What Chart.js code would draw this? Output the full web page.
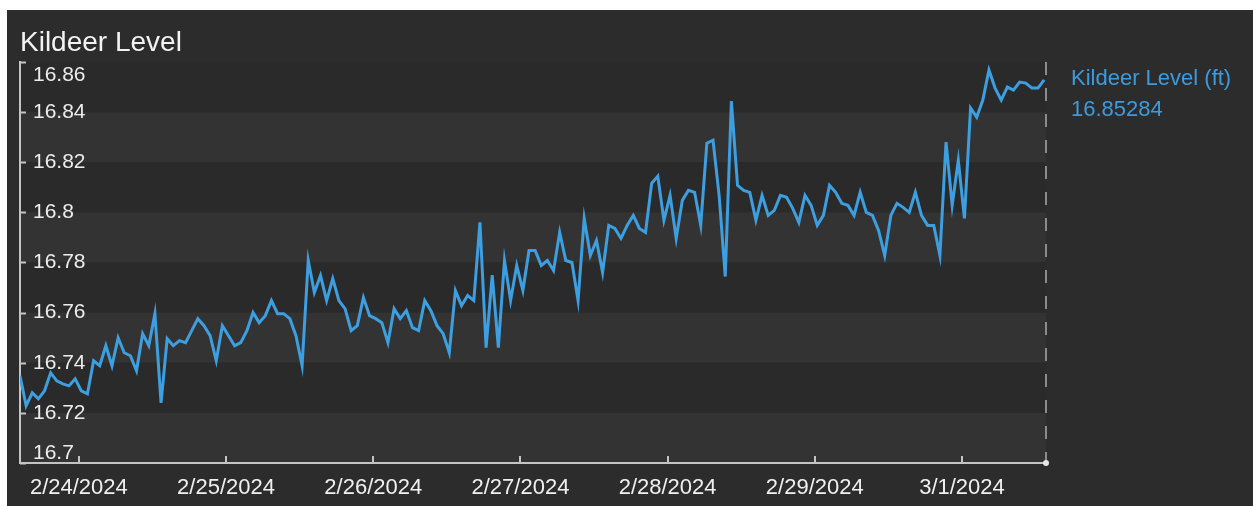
<!DOCTYPE html>
<html>
<head>
<meta charset="utf-8">
<script src="https://cdn.jsdelivr.net/npm/chart.js"></script>
<style>
  html, body { margin: 0; padding: 0; background: #fff; width: 1253px; height: 506px; overflow: hidden; }
  #panel { position: absolute; left: 7px; top: 10px; width: 1246px; height: 496px; background: #2c2c2c; }
  #chart { position: absolute; left: 0; top: 0; }
  .txt { position: absolute; font-family: "Liberation Sans", Arial, sans-serif; white-space: nowrap; }
  #title { left: 20px; top: 28px; font-size: 28px; line-height: 28px; color: #f2f2f2; }
  #legName { left: 1071px; top: 67px; font-size: 22px; line-height: 22px; color: #3d9bdc; }
  #legVal { left: 1071px; top: 98px; font-size: 22px; line-height: 22px; color: #3d9bdc; }
</style>
</head>
<body>
<div id="panel"></div>
<canvas id="chart" width="1253" height="506"></canvas>
<div class="txt" id="title">Kildeer Level</div>
<div class="txt" id="legName">Kildeer Level (ft)</div>
<div class="txt" id="legVal">16.85284</div>

<script>
  // hourly readings, first one at 2/23 14:24 (hours counted from 2/24 00:00)
  const START_HOUR = -9.6;
  const END_HOUR = 157.7;
  const levels = [
    16.7348, 16.7228, 16.7280, 16.7256, 16.7288, 16.7360, 16.7328, 16.7316, 16.7308, 16.7336,
    16.7288, 16.7276, 16.7408, 16.7388, 16.7468, 16.7388, 16.7500, 16.7440, 16.7428, 16.7368,
    16.7516, 16.7468, 16.7596, 16.7240, 16.7496, 16.7468, 16.7488, 16.7480, 16.7528, 16.7576,
    16.7548, 16.7508, 16.7408, 16.7548, 16.7508, 16.7468, 16.7480, 16.7528, 16.7600, 16.7560,
    16.7588, 16.7648, 16.7596, 16.7596, 16.7576, 16.7508, 16.7388, 16.7808, 16.7680, 16.7748,
    16.7648, 16.7736, 16.7648, 16.7616, 16.7528, 16.7548, 16.7660, 16.7588, 16.7576, 16.7560,
    16.7480, 16.7616, 16.7576, 16.7608, 16.7540, 16.7528, 16.7648, 16.7608, 16.7548, 16.7516,
    16.7440, 16.7688, 16.7628, 16.7668, 16.7648, 16.7960, 16.7460, 16.7750, 16.7460, 16.7808,
    16.7648, 16.7788, 16.7688, 16.7848, 16.7848, 16.7788, 16.7808, 16.7768, 16.7920, 16.7808,
    16.7800, 16.7648, 16.7976, 16.7828, 16.7888, 16.7760, 16.7948, 16.7936, 16.7896, 16.7948,
    16.7988, 16.7936, 16.7920, 16.8116, 16.8144, 16.7968, 16.8068, 16.7896, 16.8048, 16.8088,
    16.8080, 16.7948, 16.8276, 16.8288, 16.8068, 16.7744, 16.8444, 16.8108, 16.8088, 16.8080,
    16.7968, 16.8068, 16.7988, 16.8008, 16.8068, 16.8060, 16.8016, 16.7960, 16.8068, 16.8028,
    16.7948, 16.7988, 16.8108, 16.8080, 16.8036, 16.8028, 16.7988, 16.8080, 16.8000, 16.7988,
    16.7928, 16.7828, 16.7988, 16.8036, 16.8020, 16.8000, 16.8080, 16.7988, 16.7948, 16.7948,
    16.7828, 16.8280, 16.8028, 16.8208, 16.7976, 16.8416, 16.8380, 16.8448, 16.8568, 16.8496,
    16.8448, 16.8500, 16.8488, 16.8520, 16.8516, 16.8496, 16.8496, 16.85284
  ];
  const yMin = 16.7, yMax = 16.86, yStep = 0.02;

  const points = levels.map((v, i) => ({ x: START_HOUR + i, y: v }));

  function dayLabel(h) {
    const d = new Date(2024, 1, 24 + Math.round(h / 24));
    return `${d.getMonth() + 1}/${d.getDate()}/${d.getFullYear()}`;
  }

  const decor = {
    id: 'decor',
    beforeDraw(chart) {
      const { ctx, chartArea: a, scales: { y } } = chart;
      ctx.save();
      let k = 0;
      for (let v = yMax; v > yMin + 1e-9; v -= yStep, k++) {
        const top = y.getPixelForValue(v), bot = y.getPixelForValue(v - yStep);
        ctx.fillStyle = k % 2 ? '#333333' : '#2a2a2a';
        ctx.fillRect(a.left, top, a.right - a.left, bot - top);
      }
      ctx.restore();
    },
    afterDraw(chart) {
      const { ctx, chartArea: a, scales: { x, y } } = chart;
      ctx.save();
      // right dashed edge
      ctx.strokeStyle = '#8c8c8c';
      ctx.lineWidth = 2;
      ctx.setLineDash([13, 13]);
      ctx.beginPath();
      ctx.moveTo(a.right, a.top);
      ctx.lineTo(a.right, a.bottom);
      ctx.stroke();
      ctx.setLineDash([]);
      // inward tick marks
      ctx.strokeStyle = '#c4c4c4';
      ctx.beginPath();
      y.ticks.forEach(t => {
        const py = Math.round(y.getPixelForValue(t.value)) + 0.5;
        ctx.moveTo(a.left, py); ctx.lineTo(a.left + 6, py);
      });
      x.ticks.forEach(t => {
        const px = Math.round(x.getPixelForValue(t.value));
        ctx.moveTo(px, a.bottom); ctx.lineTo(px, a.bottom - 7);
      });
      ctx.stroke();
      // end dot
      ctx.fillStyle = '#e6e6e6';
      ctx.beginPath();
      ctx.arc(a.right, a.bottom, 3, 0, Math.PI * 2);
      ctx.fill();
      // y labels inside the plot
      ctx.font = '21px "Liberation Sans", Arial, sans-serif';
      ctx.fillStyle = '#ececec';
      ctx.textAlign = 'left';
      ctx.textBaseline = 'middle';
      y.ticks.forEach(t => {
        let py = y.getPixelForValue(t.value);
        py = Math.min(Math.max(py, a.top + 13), a.bottom - 10);
        ctx.fillText(String(Number(t.value.toFixed(2))), a.left + 13, py);
      });
      ctx.restore();
    }
  };

  new Chart(document.getElementById('chart'), {
    type: 'line',
    data: {
      datasets: [{
        label: 'Kildeer Level (ft)',
        data: points,
        borderColor: '#3d9fe0',
        borderWidth: 3,
        pointRadius: 0,
        tension: 0,
        fill: false,
      }]
    },
    options: {
      responsive: false,
      animation: false,
      layout: { padding: { left: 20, top: 62, right: 207, bottom: 0 } },
      plugins: { legend: { display: false }, tooltip: { enabled: false } },
      scales: {
        x: {
          type: 'linear',
          min: START_HOUR,
          max: END_HOUR,
          grid: { display: false },
          border: { display: true, color: '#c4c4c4', width: 2 },
          ticks: {
            stepSize: 24,
            includeBounds: false,
            autoSkip: false,
            maxRotation: 0,
            padding: 4,
            color: '#f0f0f0',
            font: { family: '"Liberation Sans", Arial, sans-serif', size: 22 },
            callback: v => dayLabel(v),
          },
          afterFit: s => { s.height = 43; },
        },
        y: {
          min: yMin,
          max: yMax,
          grid: { display: false },
          border: { display: true, color: '#c4c4c4', width: 2 },
          ticks: { stepSize: yStep, display: false },
          afterFit: s => { s.width = 0; },
        }
      }
    },
    plugins: [decor]
  });
</script>
</body>
</html>
